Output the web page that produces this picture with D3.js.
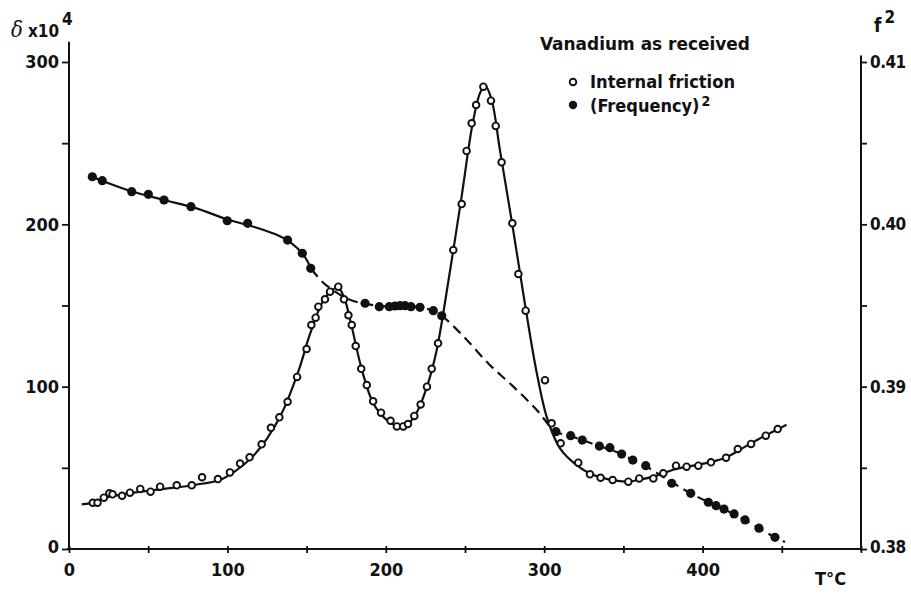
<!DOCTYPE html>
<html>
<head>
<meta charset="utf-8">
<script src="https://cdn.jsdelivr.net/npm/d3@7"></script>
<style>
  body { margin: 0; background: #fff; }
  svg { display: block; }
  text { font-family: "DejaVu Sans Condensed", "DejaVu Sans", sans-serif; font-stretch: condensed; font-weight: bold; fill: #111; }
</style>
</head>
<body>
<svg id="chart"></svg>
<script>
// internal friction measurements: [T in °C, delta x 10^4]
const frictionPoints = [
  [15, 28.5], [18, 28.5], [22, 31.6], [25.5, 34.3], [27.5, 33.7], [33.5, 32.8],
  [38.5, 34.7], [45, 37], [51.5, 35.3], [57.5, 38.4], [68, 39.2], [77.5, 39.2],
  [84, 44.2], [94, 43.1], [101.6, 47.2], [108, 52.6], [114, 56.5], [121.6, 64.5],
  [127.5, 74.7], [132.8, 81.1], [138, 90.7], [144, 106], [150, 123.2], [153, 138],
  [155.7, 142.5], [157.4, 149.3], [161.6, 153.8], [164.8, 158.5], [170, 161.6],
  [173.6, 153.8], [176.4, 144], [178.5, 138], [181, 125], [184.5, 111], [188, 101],
  [192, 91], [197, 84], [203, 79], [207, 75.5], [211, 75.5], [214, 77], [218, 82],
  [222, 89], [226, 100], [229, 111], [233, 126.7], [242.6, 184.2], [247.9, 212.5],
  [251, 245.2], [254.2, 262.2], [257, 273.5], [261.6, 284.8], [266.4, 276.2],
  [269.4, 260.6], [273.1, 238.2], [279.9, 200.6], [283.7, 169.4], [288.3, 146.8],
  [300.5, 104], [304.7, 77.4], [310.4, 65.1], [321.5, 53.2], [328.9, 46],
  [335.6, 43.9], [343.2, 42.5], [353.1, 41.5], [360, 43.5], [368.9, 43.5],
  [375.2, 46.6], [383.2, 51.3], [389.9, 50.7], [397.3, 51.3], [405.3, 53.4],
  [414.8, 56.2], [422.2, 61.6], [430.6, 64.7], [439.9, 69.8], [447.4, 73.9]
];

// hand-drawn fit through the friction points
const frictionCurve = [
  [8, 27.5], [15, 28.6], [25, 32], [40, 34.6], [60, 37], [80, 39.6], [95, 42.5],
  [105, 48], [115, 56], [125, 68], [135, 85], [145, 110], [152, 132], [160, 152],
  [166, 159.5], [170, 161], [174, 154], [178, 139], [185, 110], [192, 90],
  [200, 80], [208, 75.5], [214, 77], [220, 85], [226, 100], [232, 122], [240, 168],
  [248, 218], [255, 263], [260, 282], [263, 285], [267, 276], [272, 246],
  [280, 199], [288, 150], [295, 110], [302, 80], [310, 62], [320, 52], [330, 46],
  [340, 43], [352, 41.5], [362, 43], [372, 45.5], [382, 49], [395, 51.5],
  [405, 53.5], [415, 56.5], [425, 62], [435, 67.5], [445, 72.5], [453, 76.5]
];

// (frequency)^2 measurements: [T in °C, f^2]
const freqPoints = [
  [14.7, 0.40293], [21, 0.40269], [39.6, 0.40201], [50.1, 0.40185], [60, 0.40150],
  [77, 0.40109], [99.9, 0.40022], [112.8, 0.40006], [138, 0.39903], [147.3, 0.39822],
  [152.6, 0.39729], [186.9, 0.39514], [195.9, 0.39493], [202.2, 0.39493],
  [205.8, 0.39497], [209, 0.39499], [212.1, 0.39499], [215.9, 0.39493],
  [221.6, 0.39489], [230, 0.39468], [235.3, 0.39437], [307.4, 0.38723],
  [316.7, 0.38698], [324, 0.38671], [334.8, 0.38634], [341.5, 0.38624],
  [348.9, 0.38585], [355.9, 0.38548], [364.1, 0.38513], [380.5, 0.38405],
  [392.5, 0.38343], [403.6, 0.38288], [408.5, 0.38267], [413.5, 0.38246],
  [419.9, 0.38216], [426.8, 0.38179], [435.6, 0.38128], [445.7, 0.38072]
];

// fit through the frequency points; solid up to 153 °C, dashed after
const freqCurve = [
  [13, 0.40300], [20, 0.40272], [40, 0.40202], [60, 0.40150], [80, 0.40100],
  [100, 0.40030], [115, 0.39990], [130, 0.39940], [140, 0.39888], [148, 0.39812],
  [153, 0.39725], [160, 0.39645], [168, 0.39585], [175, 0.39545], [183, 0.39518],
  [190, 0.39505], [200, 0.39495], [210, 0.39497], [220, 0.39490], [230, 0.39468],
  [236, 0.39432], [250, 0.39300], [265, 0.39140], [280, 0.39005], [295, 0.38860],
  [307, 0.38725], [316, 0.38698], [325, 0.38668],
  [335, 0.38633], [345, 0.38600], [356, 0.38548], [365, 0.38505], [375, 0.38445],
  [385, 0.38385], [395, 0.38330], [405, 0.38282], [415, 0.38238], [425, 0.38188],
  [435, 0.38132], [445, 0.38075], [452, 0.38043]
];
const freqSolidEnd = 153;

const xTicks = [0, 50, 100, 150, 200, 250, 300, 350, 400, 450, 500];
const xLabels = [0, 100, 200, 300, 400];
const leftTicks = [0, 50, 100, 150, 200, 250, 300];
const leftLabels = [0, 100, 200, 300];
const rightTicks = [0.38, 0.385, 0.39, 0.395, 0.40, 0.405, 0.41];
const rightLabels = [0.38, 0.39, 0.40, 0.41];

const width = 911, height = 594;
const svg = d3.select('#chart').attr('width', width).attr('height', height);

const x = d3.scaleLinear().domain([0, 500]).range([69, 861]);
const yL = d3.scaleLinear().domain([0, 300]).range([549, 62]);
const yR = d3.scaleLinear().domain([0.38, 0.41]).range([549, 62]);

const ink = '#111';
const font = '"DejaVu Sans Condensed", "DejaVu Sans", sans-serif';

// axes
const axes = svg.append('g').attr('stroke', ink).attr('stroke-width', 2).attr('fill', 'none');
axes.append('line').attr('x1', x(0)).attr('x2', x(0)).attr('y1', yL(0) + 1).attr('y2', yL(312.5));
axes.append('line').attr('x1', x(500)).attr('x2', x(500)).attr('y1', yR(0.38) + 2).attr('y2', yR(0.4104));
axes.append('line').attr('x1', x(0) - 2).attr('x2', x(500)).attr('y1', yL(0)).attr('y2', yL(0));

const left = svg.append('g').attr('transform', `translate(${x(0)},0)`)
  .call(d3.axisLeft(yL).tickValues(leftTicks).tickSize(7).tickPadding(3)
    .tickFormat(d => leftLabels.includes(d) ? d : ''));
const right = svg.append('g').attr('transform', `translate(${x(500)},0)`)
  .call(d3.axisRight(yR).tickValues(rightTicks).tickSize(6).tickPadding(3)
    .tickFormat(d => rightLabels.includes(+d.toFixed(3)) ? d3.format('.2f')(d) : ''));
const bottom = svg.append('g').attr('transform', `translate(0,${yL(0)})`)
  .call(d3.axisBottom(x).tickValues(xTicks).tickSize(4).tickPadding(10)
    .tickFormat(d => xLabels.includes(d) ? d : ''));

[left, right, bottom].forEach(g => {
  g.select('.domain').remove();
  g.selectAll('.tick line').attr('stroke', ink).attr('stroke-width', 1.8);
  g.selectAll('.tick text').attr('font-size', 18).attr('fill', ink)
    .style('font-family', font).style('font-stretch', 'condensed').style('font-weight', 'bold');
});
bottom.selectAll('.tick line').attr('y1', -3);
right.selectAll('.tick text').attr('font-size', 17).attr('letter-spacing', -0.5);
left.selectAll('.tick text').filter(d => d === 0).attr('dy', '0.2em');
right.selectAll('.tick text').filter(d => d === 0.38).attr('dy', '0.2em');

// axis titles
const t1 = svg.append('text').attr('x', 11).attr('y', 37).attr('font-size', 22);
t1.append('tspan').text('δ').style('font-family', '"DejaVu Serif", serif').style('font-style', 'italic').style('font-weight', 'normal');
t1.append('tspan').attr('dx', 5).attr('font-size', 17).text('x10');
t1.append('tspan').attr('dx', 3).attr('dy', -12).attr('font-size', 17).text('4');

const t2 = svg.append('text').attr('x', 874).attr('y', 32).attr('font-size', 19);
t2.append('tspan').text('f');
t2.append('tspan').attr('dx', 3).attr('dy', -9).attr('font-size', 17).text('2');

svg.append('text').attr('x', 815).attr('y', 585).attr('font-size', 18).text('T°C');

// curves
const line = (yScale) => d3.line().x(d => x(d[0])).y(d => yScale(d[1])).curve(d3.curveCatmullRom.alpha(0.5));

svg.append('path').datum(frictionCurve)
  .attr('d', line(yL)).attr('fill', 'none').attr('stroke', ink).attr('stroke-width', 2.2);

svg.append('path').datum(freqCurve.filter(d => d[0] <= freqSolidEnd))
  .attr('d', line(yR)).attr('fill', 'none').attr('stroke', ink).attr('stroke-width', 2.2);
svg.append('path').datum(freqCurve.filter(d => d[0] >= freqSolidEnd))
  .attr('d', line(yR)).attr('fill', 'none').attr('stroke', ink).attr('stroke-width', 2.2)
  .attr('stroke-dasharray', '10 6');

// markers
svg.append('g').selectAll('circle').data(freqPoints).join('circle')
  .attr('cx', d => x(d[0])).attr('cy', d => yR(d[1])).attr('r', 4.6).attr('fill', ink);

svg.append('g').selectAll('circle').data(frictionPoints).join('circle')
  .attr('cx', d => x(d[0])).attr('cy', d => yL(d[1])).attr('r', 3.3)
  .attr('fill', '#fff').attr('stroke', ink).attr('stroke-width', 1.9);

// legend
const legend = svg.append('g');
legend.append('text').attr('x', 540).attr('y', 50).attr('font-size', 18)
  .attr('textLength', 210).attr('lengthAdjust', 'spacingAndGlyphs').text('Vanadium as received');
legend.append('circle').attr('cx', 573).attr('cy', 82).attr('r', 3.3)
  .attr('fill', '#fff').attr('stroke', ink).attr('stroke-width', 1.9);
legend.append('text').attr('x', 590).attr('y', 88).attr('font-size', 18)
  .attr('textLength', 145).attr('lengthAdjust', 'spacingAndGlyphs').text('Internal friction');
legend.append('circle').attr('cx', 573).attr('cy', 105).attr('r', 4.2).attr('fill', ink);
const lt = legend.append('text').attr('x', 590).attr('y', 112).attr('font-size', 18);
lt.append('tspan').text('(Frequency)');
lt.append('tspan').attr('dx', 2).attr('dy', -6).attr('font-size', 14).text('2');
</script>
</body>
</html>
